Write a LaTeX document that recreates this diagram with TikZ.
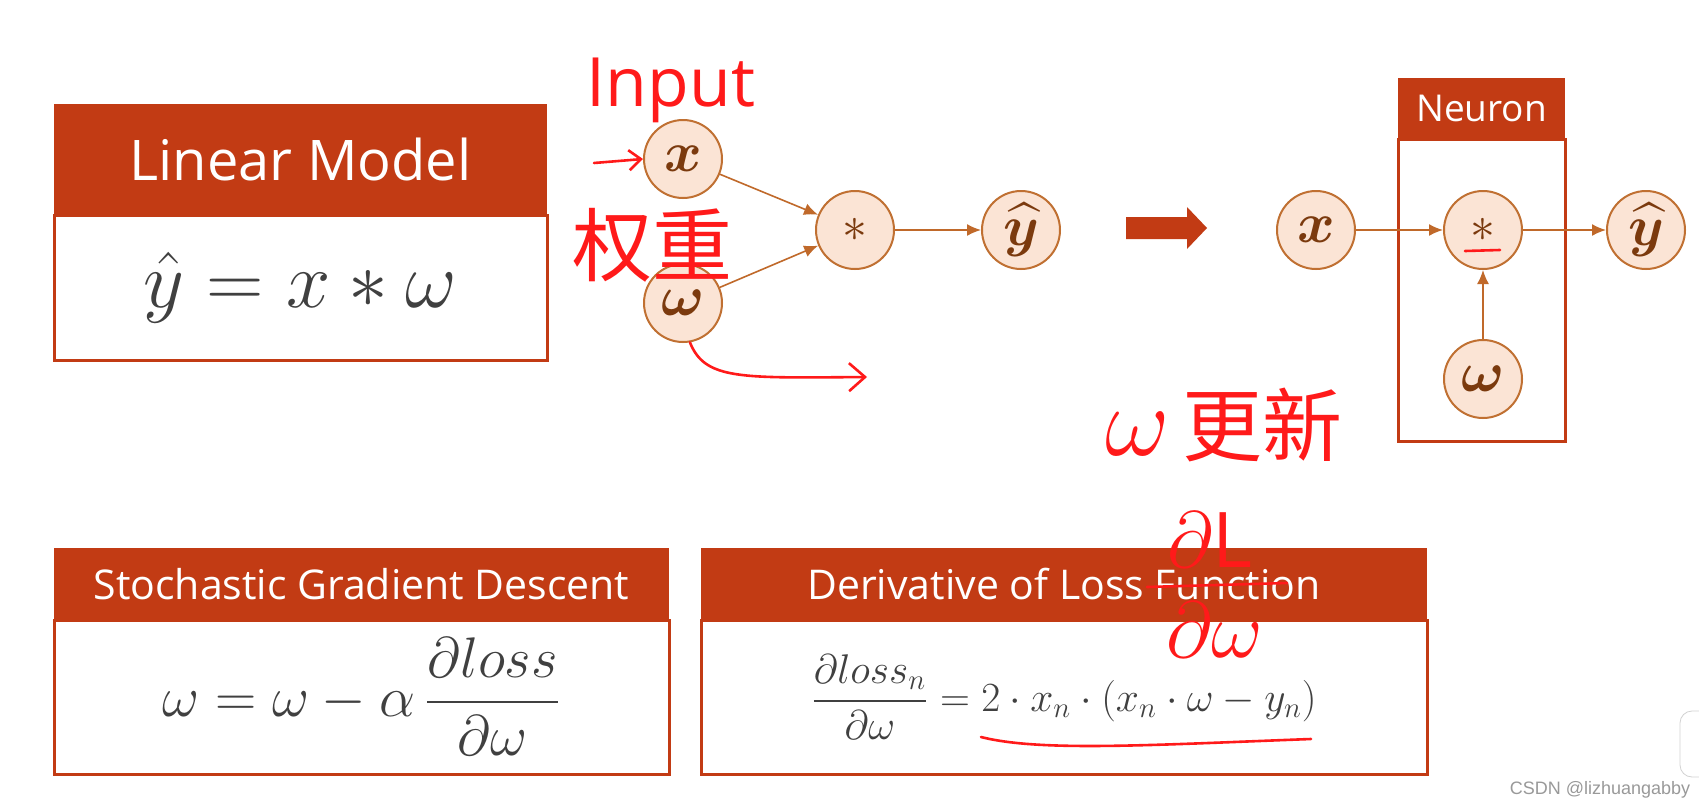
\documentclass[tikz,border=0pt]{standalone}
\usepackage{amsmath}
\usepackage{bm}
\usepackage{fontspec}
\setmainfont{Open Sans}
\newfontfamily\cjk{Noto Sans CJK SC}
\newfontfamily\wmfont{Liberation Sans}
\usetikzlibrary{arrows.meta,positioning}
\definecolor{HeadRed}{HTML}{C23B14}
\definecolor{Ring}{HTML}{C07032}
\definecolor{Peach}{HTML}{FBE4D5}
\definecolor{Cocoa}{HTML}{7B3A0E}
\definecolor{Wire}{HTML}{C0692A}
\definecolor{Ink}{HTML}{FF1A1A}
\definecolor{Slate}{HTML}{404040}

\begin{document}
\begin{tikzpicture}[x=0.5pt,y=-0.5pt,
  head/.style={fill=HeadRed,text=white,anchor=north west,inner sep=0pt,outer sep=0pt},
  panel/.style={draw=HeadRed,line width=1.5pt,fill=white,anchor=north,inner sep=0pt,outer sep=0pt,text=Slate,font=\fontsize{24}{28}\selectfont},
  unit/.style={circle,draw=Ring,line width=1pt,fill=Peach,minimum size=39pt,inner sep=0pt,text=Cocoa,font=\fontsize{24}{28}\selectfont},
  arr/.style={-{Latex[length=7pt,width=6pt]},line width=0.8pt,color=Wire},
  ink/.style={color=Ink,line width=1.3pt,line cap=round,line join=round},
  note/.style={text=Ink,inner sep=0pt}
]
\useasboundingbox[fill=white] (0,0) rectangle (1699,809);

% linear model card
\node[head,minimum width=246.5pt,minimum height=55.5pt,font=\fontsize{28}{30}\selectfont] (lmhead) at (54,104) {Linear Model};
\node[panel,minimum width=246.5pt,minimum height=72.5pt] (lmbody) at (lmhead.south) {\scalebox{1.6}{$\hat{y} = x * \omega$}};

% computation graph
\node[unit] (xin) at (683,159) {\scalebox{1.15}{$\bm{x}$}};
\node[unit,below=32pt of xin] (win) {\scalebox{1.15}{$\bm{\omega}$}};
\node[unit] (mul) at (855,230) {$*$};
\node[unit,right=43pt of mul] (yhat) {\scalebox{1.15}{$\widehat{\bm{y}}$}};
\draw[arr] (xin) -- (mul);
\draw[arr] (win) -- (mul);
\draw[arr] (mul) -- (yhat);

\fill[HeadRed] (1126,217) -- (1187,217) -- (1187,207) -- (1207,228) -- (1187,249) -- (1187,239) -- (1126,239) -- cycle;

% neuron
\node[head,minimum width=83.5pt,minimum height=30.5pt,font=\fontsize{18.5}{20}\selectfont] (nhead) at (1398,78) {Neuron};
\node[panel,minimum width=83.5pt,minimum height=151pt] (nbody) at (nhead.south) {};
\node[unit] (nx) at (1316,230) {\scalebox{1.15}{$\bm{x}$}};
\node[unit,right=43.5pt of nx] (nmul) {$*$};
\node[unit,right=41.5pt of nmul] (nyhat) {\scalebox{1.15}{$\widehat{\bm{y}}$}};
\node[unit,below=34.5pt of nmul] (nw) {\scalebox{1.15}{$\bm{\omega}$}};
\draw[arr] (nx) -- (nmul);
\draw[arr] (nmul) -- (nyhat);
\draw[arr] (nw) -- (nmul);

% sgd and derivative cards
\node[head,minimum width=307.5pt,minimum height=36pt,font=\fontsize{20.5}{22}\selectfont] (sgdhead) at (54,548) {Stochastic Gradient Descent};
\node[panel,minimum width=307.5pt,minimum height=77pt] (sgdbody) at (sgdhead.south) {\scalebox{1.15}{$\omega = \omega - \alpha\,\dfrac{\partial loss}{\partial \omega}$}};
\node[head,minimum width=363pt,minimum height=36pt,font=\fontsize{20.5}{22}\selectfont] (dlhead) at (701,548) {Derivative of Loss Function};
\node[panel,minimum width=363pt,minimum height=77pt,font=\fontsize{21}{24}\selectfont] (dlbody) at (dlhead.south) {$\dfrac{\partial loss_n}{\partial\omega} = 2\cdot x_n\cdot(x_n\cdot\omega - y_n)$};

% red pen notes
\node[note,font=\fontsize{34}{36}\selectfont] (inputnote) at (671,90) {Input};
\coordinate (intail) at (594,163);
\draw[ink,-{Straight Barb[length=6pt,width=10pt]}] (intail) -- (xin.west);
\node[note,font=\cjk\fontsize{40}{42}\selectfont] (weightnote) at (652,245) {权重};
\coordinate (whead) at (867,377);
\draw[ink,-{Straight Barb[length=8pt,width=14pt]}] (win.-80) .. controls (705,380) and (740,378) .. (whead);
\node[note,font=\cjk\fontsize{40}{42}\selectfont] (updnote) at (1224,425) {\scalebox{2}{$\omega$}\,更新};
\draw[ink] ([xshift=-9pt,yshift=-10.5pt]nmul.center) -- ++(17.5pt,0.5pt);
\node[note,font=\fontsize{24}{28}\selectfont] (dLnote) at (1210,540) {\scalebox{1.6}{$\partial\mathrm{L}$}};
\node[note,font=\fontsize{24}{28}\selectfont] (dwnote) at (1215,630) {\scalebox{1.6}{$\partial\omega$}};
\draw[ink] (1147,587) -- (1287,583);
\draw[ink] (981,737) .. controls (1040,752) and (1150,745) .. (1311,739);

\draw[gray!35,fill=white,rounded corners=6pt] (1680,711) rectangle (1730,777);
\node[text=gray!80,font=\wmfont\fontsize{9}{10}\selectfont] (mark) at (1600,790) {CSDN @lizhuangabby};
\end{tikzpicture}
\end{document}
